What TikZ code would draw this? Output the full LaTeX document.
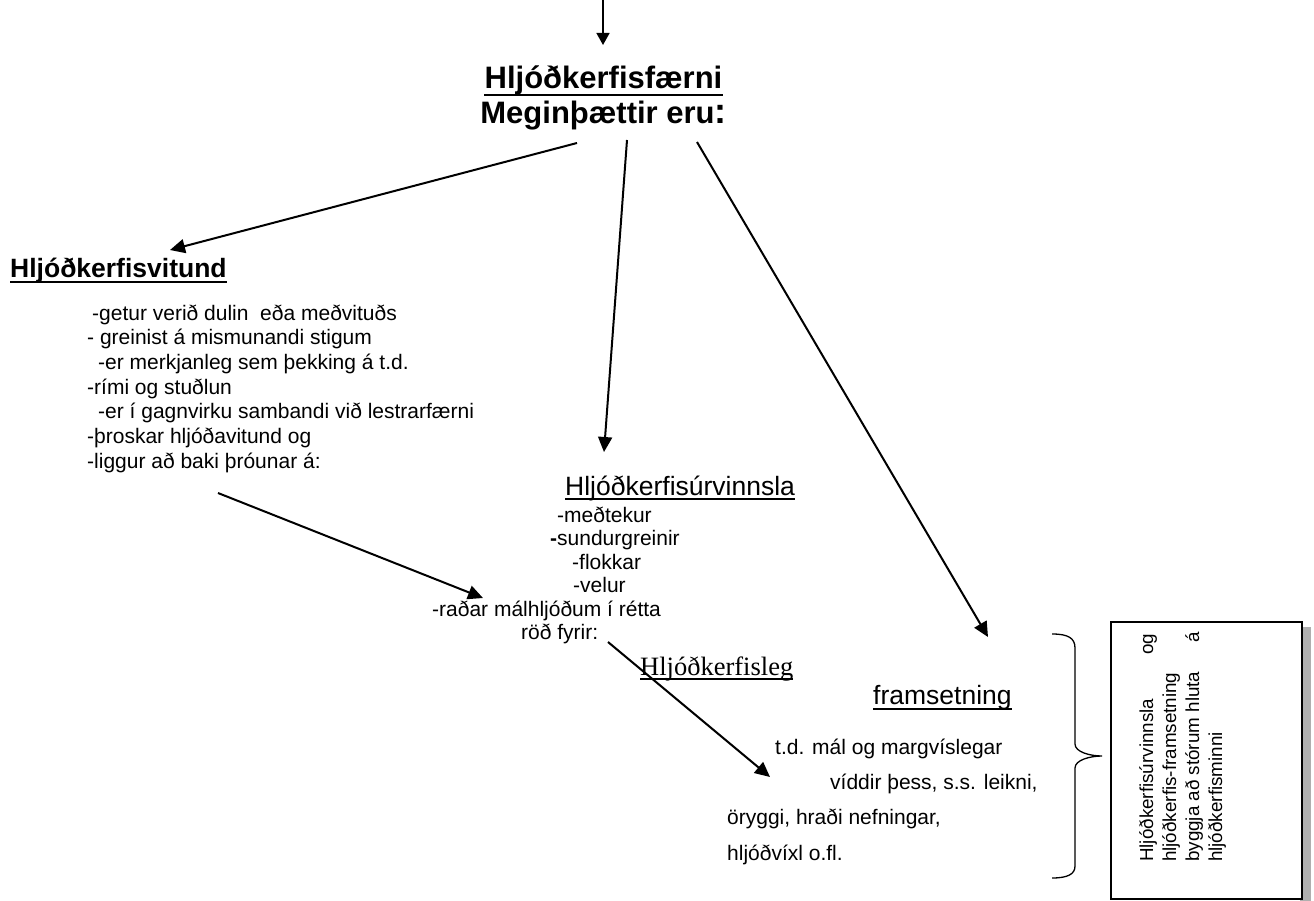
\documentclass[tikz,border=0pt]{standalone}
\usepackage{fontspec}
\setmainfont{Liberation Sans}
\newfontfamily\serifface{Liberation Serif}
\usetikzlibrary{arrows.meta}

\begin{document}
\begin{tikzpicture}[x=1pt,y=-1pt,
  txt/.style={inner sep=0pt, anchor=base west},
  ctxt/.style={inner sep=0pt, anchor=base},
  titlefont/.style={font=\fontsize{31}{36}\selectfont\bfseries},
  headbold/.style={font=\fontsize{26.5}{30}\selectfont\bfseries},
  headreg/.style={font=\fontsize{26.5}{30}\selectfont},
  headserif/.style={font=\fontsize{26.5}{30}\serifface\selectfont},
  body/.style={font=\fontsize{21}{25}\selectfont},
  boxtext/.style={font=\fontsize{18.8}{22}\selectfont, inner sep=0pt, rotate=90, anchor=base west},
  uline/.style={line width=1.6pt},
  arr/.style={line width=2pt, -{Triangle[length=15pt,width=14pt]}},
]
\useasboundingbox (0,0) rectangle (1314,901);

% ---- title ----
\coordinate (in) at (603,0);
\node[titlefont,ctxt] (title) at (603.5,89) {Hljóðkerfisfærni};
\draw[uline,line width=2pt] ([yshift=-6pt]title.base west) -- ([yshift=-6pt]title.base east);
\node[titlefont,ctxt] (sub) at (603.5,124) {Meginþættir eru{\fontsize{36}{40}\selectfont:}};
\draw[line width=1.5pt,-{Triangle[length=12pt,width=13pt]}] (in) -- (603,45);

% ---- arrow anchors ----
\coordinate (s1) at (577,143);
\coordinate (e1) at (170,250);
\coordinate (s2) at (627,140);
\coordinate (e2) at (604,452);
\coordinate (s3) at (697,142);
\coordinate (e3) at (988,637);
\coordinate (s4) at (218,493);
\coordinate (e4) at (483,598);
\coordinate (s5) at (608,642);
\coordinate (e5) at (770,777);

% ---- Hljóðkerfisvitund ----
\node[headbold,txt] (vit) at (10,277) {Hljóðkerfisvitund};
\draw[uline,line width=2pt] ([yshift=-5pt]vit.base west) -- ([yshift=-5pt]vit.base east);
\foreach \i/\dx/\t in {1/5/{-getur verið dulin\ \ eða meðvituðs},
                       2/0/{- greinist á mismunandi stigum},
                       3/11/{-er merkjanleg sem þekking á t.d.},
                       4/0/{-rími og stuðlun},
                       5/11/{-er í gagnvirku sambandi við lestrarfærni},
                       6/0/{-þroskar hljóðavitund og},
                       7/0/{-liggur að baki þróunar á:}}
  \node[body,txt] (vit\i) at (87+\dx,320+24.7*\i-24.7) {\t};

% ---- Hljóðkerfisúrvinnsla ----
\node[headreg,txt] (urv) at (565,495) {Hljóðkerfisúrvinnsla};
\draw[uline] ([yshift=-4pt]urv.base west) -- ([yshift=-4pt]urv.base east);
\foreach \i/\x/\t in {1/557/{-meðtekur},
                      2/550/{{\bfseries-}sundurgreinir},
                      3/572/{-flokkar},
                      4/573/{-velur},
                      5/432/{-raðar málhljóðum í rétta},
                      6/521/{röð fyrir:}}
  \node[body,txt] (urv\i) at (\x,522+23.5*\i-23.5) {\t};

% ---- Hljóðkerfisleg framsetning ----
\node[headserif,txt] (leg) at (640,675) {Hljóðkerfisleg};
\draw[uline,line width=1.4pt] ([yshift=-4pt]leg.base west) -- ([yshift=-4pt]leg.base east);
\node[headreg,txt] (fram) at (873,704) {framsetning};
\draw[uline] ([yshift=-5pt]fram.base west) -- ([yshift=-5pt]fram.base east);
\foreach \i/\x/\y/\t in {1/775/754/{t.d. mál og margvíslegar},
                         2/830/789/{víddir þess, s.s. leikni,},
                         3/727/824/{öryggi, hraði nefningar,},
                         4/727/860/{hljóðvíxl o.fl.}}
  \node[body,txt] (fr\i) at (\x,\y) {\t};

% ---- connectors ----
\draw[arr] (s1) -- (e1);
\draw[arr] (s2) -- (e2);
\draw[arr] (s3) -- (e3);
\draw[arr] (s4) -- (e4);
\draw[arr] (s5) -- (e5);

% ---- brace ----
\draw[line width=1.3pt] (1052,634) .. controls (1068,634) and (1075,638) .. (1075,648)
  -- (1075,744) .. controls (1075,752) and (1090,756) .. (1102,756)
  .. controls (1090,756) and (1075,760) .. (1075,768)
  -- (1075,866) .. controls (1075,874) and (1068,878) .. (1052,878);

% ---- side box with shadow ----
\fill[gray!95!black!60] (1300,627) rectangle (1311,905);
\draw[fill=white,line width=1.5pt] (1111,622) rectangle (1302,899);
\node[boxtext] (b1) at (1153,862) {\makebox[228pt][l]{Hljóðkerfisúrvinnsla\hfill og}};
\node[boxtext] (b2) at (1176,862) {hljóðkerfis-framsetning};
\node[boxtext] (b3) at (1199,862) {\makebox[230pt][l]{byggja að stórum hluta\hfill á}};
\node[boxtext] (b4) at (1222,862) {hljóðkerfisminni};
\end{tikzpicture}
\end{document}
